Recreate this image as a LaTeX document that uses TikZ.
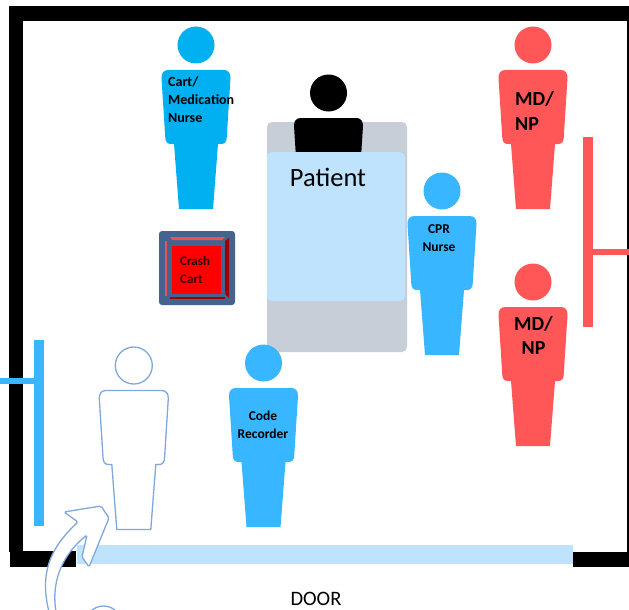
\documentclass[tikz,border=0pt]{standalone}
\usepackage{fontspec}
\setmainfont{Carlito}
\definecolor{cartblue}{HTML}{00B0F0}
\definecolor{staffblue}{HTML}{38B6FF}
\definecolor{staffred}{HTML}{FF5757}
\definecolor{paleblue}{HTML}{BFE3FD}
\definecolor{bedgrey}{HTML}{C8CED8}
\definecolor{lineblue}{HTML}{7FA8DC}
\definecolor{cartframe}{HTML}{44648F}
\definecolor{darkbevel}{HTML}{A00000}
\definecolor{lightbevel}{HTML}{F05050}
\tikzset{
	wall/.style={fill=black},
	person/.pic={
		\path[pic actions] (0,0) circle (18.5);
		\path[pic actions] (-22,99) -- (-25,99) .. controls (-28.5,99) and (-30.5,97) .. (-30.7,93) -- (-34.5,33) .. controls (-34.7,28) and (-32,25) .. (-28,25) -- (28,25) .. controls (32,25) and (34.7,28) .. (34.5,33) -- (30.7,93) .. controls (30.5,97) and (28.5,99) .. (25,99) -- (22,99) -- (17,164) -- (-17,164) -- cycle;
	},
	tag/.style={font=\bfseries\fontsize{13.5}{18}\selectfont, align=center, inner sep=0pt},
	bigtag/.style={font=\bfseries\fontsize{20}{24.5}\selectfont, align=center, inner sep=0pt}
}
\begin{document}
\begin{tikzpicture}[x=1pt,y=-1pt]
	
	%Page
	\path[use as bounding box, clip] (0,0) rectangle (629,610);
	\fill[white] (0,0) rectangle (629,610);
	
	%Room walls
	\fill[wall] (9,6) rectangle (629,21);
	\fill[wall] (9,6) rectangle (23,552);
	\fill[wall] (627,21) rectangle (629,552);
	\fill[wall] (10,551) rectangle (76,567);
	\fill[wall] (573,552) rectangle (629,567);
	
	%Door
	\fill[paleblue] (77,545) rectangle (573,564);
	\node (doorLabel) at (316,599) [font=\fontsize{20.5}{24}\selectfont, inner sep=0pt]{DOOR};
	
	%Bed
	\fill[bedgrey, rounded corners=5] (267,122) rectangle (407,352);
	\pic (patient) at (328.5,93) [fill=black] {person};
	\fill[paleblue, rounded corners=5] (267,152) rectangle (405,301);
	\node (patientLabel) at (328,177) [font=\fontsize{26.5}{30}\selectfont, inner sep=0pt]{Patient};
	
	%Crash cart
	\fill[cartframe, rounded corners=3] (159,231) rectangle (235,305);
	\fill[lightbevel] (170,237) -- (225,237) -- (222,240) -- (172,240) -- cycle;
	\fill[lightbevel] (165,241) rectangle (167,296);
	\fill[darkbevel] (225,241) -- (229,238) -- (229,298) -- (225,294) -- cycle;
	\fill[darkbevel] (170,297) rectangle (225,299);
	\node (cartFace) at (196.5,270) [rectangle, fill=red, minimum width=49pt, minimum height=48pt, inner sep=0pt]{};
	\node (cartLabel) at (180,270) [anchor=west, font=\bfseries\fontsize{13}{18}\selectfont, align=left, inner sep=0pt, text=black!80!red]{Crash\\Cart};
	
	%Cart nurse
	\pic (cartNurse) at (196,45) [fill=cartblue] {person};
	\node (cartNurseLabel) at (168,99.5) [tag, anchor=west, align=left, font=\bfseries\fontsize{14}{18}\selectfont]{Cart/\\Medication\\Nurse};
	
	%CPR nurse
	\pic (cprNurse) at (442,191) [fill=staffblue] {person};
	\node (cprLabel) at (439,238) [tag]{CPR\\Nurse};
	
	%Code recorder
	\pic (recorder) at (263.5,363) [fill=staffblue] {person};
	\node (recorderLabel) at (263,425) [tag]{Code\\Recorder};
	
	%Doctors
	\pic (firstDoctor) at (533,45) [fill=staffred] {person};
	\node (firstDoctorLabel) at (515,111) [bigtag, anchor=west, align=left]{MD/\\NP};
	\pic (secondDoctor) at (533,282) [fill=staffred] {person};
	\node (secondDoctorLabel) at (533.5,335.5) [bigtag]{MD/\\NP};
	
	%Team rails
	\fill[staffred] (583,137) rectangle (593,327);
	\fill[staffred] (593,249) rectangle (629,255);
	\fill[staffblue] (34,340) rectangle (44,526);
	\fill[staffblue] (0,378) rectangle (34,384);
	
	%Entering person and arrow
	\pic (entering) at (133.8,365.5) [draw=lineblue, fill=white, line width=1.3pt] {person};
	\draw[lineblue, fill=white, line width=1.3pt, rounded corners=1.5] (49,612) .. controls (40,575) and (48,550) .. (78,522) -- (64,512) -- (101,506) -- (109,518) -- (89,567) -- (82,557) -- (87,535) .. controls (68,550) and (50,575) .. (56,612);
	\draw[lineblue, fill=white, line width=1.3pt] (103.5,624) circle (18);
	
\end{tikzpicture}
\end{document}
